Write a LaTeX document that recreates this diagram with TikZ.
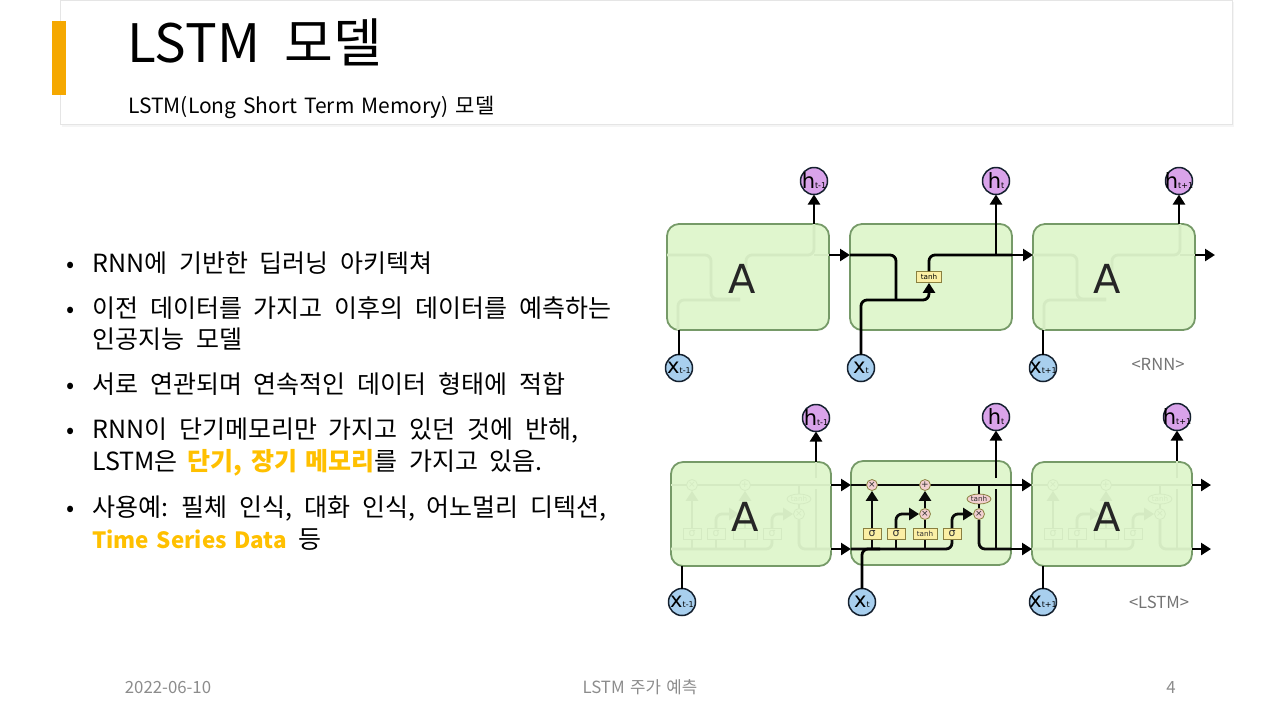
\documentclass[tikz,border=0pt]{standalone}
\usepackage{fontspec}
\setmainfont[WordSpace=2.1]{Noto Sans CJK KR}
\newfontfamily\tightfont[WordSpace=1.45]{Noto Sans CJK KR}
\newfontfamily\cellfont{DejaVu Sans}
\usetikzlibrary{arrows.meta,shapes.geometric}
\definecolor{barorange}{HTML}{F5A800}
\definecolor{gold}{HTML}{FFC000}
\definecolor{footgray}{HTML}{8C8C8C}
\definecolor{cellfill}{HTML}{E0F6CE}
\definecolor{celledge}{HTML}{769A68}
\definecolor{infill}{HTML}{A8CFEE}
\definecolor{outfill}{HTML}{D9A3EA}
\definecolor{ringdark}{HTML}{14202E}
\definecolor{wireghost}{HTML}{D4EAC2}
\definecolor{wirelive}{HTML}{0A0A0A}
\definecolor{gatefillghost}{HTML}{E0F6CE}
\definecolor{gatefilllive}{HTML}{FBEFA5}
\definecolor{gateedgeghost}{HTML}{D4EAC2}
\definecolor{gateedgelive}{HTML}{8A8040}
\definecolor{opfillghost}{HTML}{E0F6CE}
\definecolor{opfilllive}{HTML}{F2CFD0}
\definecolor{textghost}{HTML}{D4EAC2}
\definecolor{textlive}{HTML}{303030}
\newcommand{\cellvar}[2]{\makebox[10pt][c]{\cellfont{\fontsize{10.5}{11}\selectfont #1}{\fontsize{4}{5}\selectfont #2}}}
\newcommand{\fs}[1]{\fontsize{#1}{#1}\selectfont}
\begin{document}
\begin{tikzpicture}[x=0.5pt, y=-0.5pt,
	body/.style = {anchor = base west, inner sep = 0pt, font = \fs{12.5}},
	foot/.style = {anchor = base, inner sep = 0pt, text = footgray, font = \tightfont\fs{8.4}},
	cell/.style = {draw = celledge, fill = cellfill, line width = 0.9pt, rounded corners = 6pt, inner sep = 0pt, outer sep = 0pt},
	wire/.style = {line width = 1.4pt, rounded corners = 3pt},
	tip/.style = {-{Triangle[length = 5pt, width = 6pt]}},
	invar/.style = {draw = ringdark, fill = infill, circle, line width = 0.75pt, minimum size = 13.5pt, inner sep = 0pt, outer sep = 0pt},
	outvar/.style = {draw = ringdark, fill = outfill, circle, line width = 0.75pt, minimum size = 13.5pt, inner sep = 0pt, outer sep = 0pt},
	letter/.style = {inner sep = 0pt, font = \cellfont\fs{20}, text = black!85},
	tag/.style = {inner sep = 0pt, font = \fs{8.3}, text = black!55}]
\useasboundingbox (0,0) rectangle (1280,720);
% title panel
\fill[black!4] (62,2) rectangle (1234,127);
\draw[black!10, fill = white] (60,0.5) rectangle (1232,124);
\fill[barorange] (52,21) rectangle (66,95);
\node (title) at (127,62) [body, font = \fs{26.5}] {LSTM 모델};
\node (subtitle) at (128,113) [body, font = \tightfont\fs{10.5}] {LSTM(Long Short Term Memory) 모델};
% bullets and text
\foreach \y in {272,317,393,438,516}
	\node (bullet\y) at (71,\y) [anchor = base, inner sep = 0pt, font = \fs{12}] {•};
\node (line1) at (92,272) [body] {RNN에 기반한 딥러닝 아키텍쳐};
\node (line2) at (92,317) [body] {이전 데이터를 가지고 이후의 데이터를 예측하는};
\node (line3) at (92,348) [body] {인공지능 모델};
\node (line4) at (92,393) [body] {서로 연관되며 연속적인 데이터 형태에 적합};
\node (line5) at (92,438) [body] {RNN이 단기메모리만 가지고 있던 것에 반해,};
\node (line6) at (92,470) [body] {LSTM은\hspace{5pt}\textcolor{gold}{\tightfont\textbf{단기, 장기 메모리}}를 가지고 있음.};
\node (line7) at (92,516) [body] {사용예: 필체 인식, 대화 인식, 어노멀리 디텍션,};
\node (line8) at (92,548) [body] {\textcolor{gold}{\tightfont\fs{11.2}\textbf{Time Series Data}} 등};
% footer
\node (date) at (168,693) [foot] {2022-06-10};
\node (foottitle) at (640,693) [foot] {LSTM 주가 예측};
\node (pagenum) at (1171,693) [foot] {4};
% RNN row
\node (rnnA) at (748,277) [cell, minimum width = 81pt, minimum height = 53pt] {};
\node (rnnB) at (931,277) [cell, minimum width = 81pt, minimum height = 53pt] {};
\node (rnnC) at (1114,277) [cell, minimum width = 81pt, minimum height = 53pt] {};
\node (hA) at (814,181) [outvar] {\cellvar{h}{t-1}};
\node (hB) at (996,181) [outvar] {\cellvar{h}{t}};
\node (hC) at (1179,181) [outvar] {\cellvar{h}{t+1}};
\node (xA) at (679,368) [invar] {\cellvar{x}{t-1}};
\node (xB) at (861,368) [invar] {\cellvar{x}{t}};
\node (xC) at (1043,368) [invar] {\cellvar{x}{t+1}};
\foreach \cx in {667,1033} {
	\draw[wire, wireghost] (\cx,255) -- (\cx+44,255) -- (\cx+44,299) -- (\cx+73,299);
	\draw[wire, wireghost] (\cx+11,330) -- (\cx+11,300) -- (\cx+73,300);
	\draw[wire, wireghost] (\cx+79,270) -- (\cx+79,255) -- (\cx+147,255) -- (\cx+147,224);
	\draw[wire, wireghost] (\cx+147,255) -- (\cx+162,255);
}
\node (tanhB) at (929,277) [draw = gateedgelive, fill = gatefilllive, line width = 0.4pt, minimum width = 12.5pt, minimum height = 5.5pt, inner sep = 0pt, font = \cellfont\fs{3.6}] {tanh};
\coordinate (inB) at (850,255);
\coordinate (joinB) at (896,300);
\coordinate (forkB) at (996,255);
\coordinate (outB) at (1012,255);
\coordinate (inC) at (1033,255);
\coordinate (outA) at (829,255);
\coordinate (outC) at (1195,255);
\coordinate (endC) at (1215,255);
\coordinate (topA) at (814,224);
\coordinate (topC) at (1179,224);
\coordinate (lowA) at (679,330);
\coordinate (lowC) at (1043,330);
\draw[wire] (inB) -| (joinB);
\draw[wire, tip] (xB) |- (joinB) -| (tanhB);
\draw[wire] (tanhB) |- (forkB) -- (outB);
\draw[wire, tip] (forkB) -- (hB);
\draw[wire, tip, rounded corners = 0pt] (outA) -- (inB);
\draw[wire, tip, rounded corners = 0pt] (outB) -- (inC);
\draw[wire, tip, rounded corners = 0pt] (outC) -- (endC);
\draw[wire, tip] (topA) -- (hA);
\draw[wire, tip] (topC) -- (hC);
\draw[wire] (xA) -- (lowA);
\draw[wire] (xC) -- (lowC);
\node (letterA) at (742,279) [letter] {A};
\node (letterC) at (1107,279) [letter] {A};
\node (rnntag) at (1158,364) [tag] {<RNN>};
% LSTM row
\node (lstmA) at (751,514) [cell, minimum width = 80pt, minimum height = 52pt] {};
\node (lstmB) at (931,513) [cell, minimum width = 80pt, minimum height = 52pt] {};
\node (lstmC) at (1112,514) [cell, minimum width = 80pt, minimum height = 52pt] {};
\foreach \cx/\kind/\hidden/\mulmark in {691/ghost//,871/live/tanh/×,1052/ghost//} {
	\tikzset{gate/.style = {draw = gateedge\kind, fill = gatefill\kind, line width = 0.4pt, minimum width = 9pt, minimum height = 5.5pt, inner sep = 0pt, text = text\kind, font = \cellfont\fs{5.5}},
		op/.style = {draw = gateedge\kind, fill = opfill\kind, circle, line width = 0.4pt, minimum size = 5.5pt, inner sep = 0pt, text = text\kind, font = \cellfont\fs{4.5}}}
	\coordinate (cs\cx) at (\cx-20,485);
	\coordinate (ce\cx) at (\cx+140,485);
	\coordinate (hs\cx) at (\cx-20,549);
	\coordinate (he\cx) at (\cx+140,549);
	\coordinate (fork\cx) at (\cx+125,549);
	\coordinate (gapb\cx) at (\cx+125,489);
	\coordinate (gapt\cx) at (\cx+125,478);
	\coordinate (top\cx) at (\cx+125,461);
	\coordinate (ft\cx) at (\cx+1,549);
	\coordinate (it\cx) at (\cx+25,549);
	\coordinate (tt\cx) at (\cx+54,549);
	\coordinate (st\cx) at (\cx+81,549);
	\coordinate (cross\cx) at (\cx+108,485);
	\draw[wire, draw = wire\kind] (cs\cx) -- (ce\cx);
	\draw[wire, draw = wire\kind] (hs\cx) -- (st\cx) -- (\cx+81,534);
	\draw[wire, draw = wire\kind] (ft\cx) -- (\cx+1,534);
	\draw[wire, draw = wire\kind] (it\cx) -- (\cx+25,534);
	\draw[wire, draw = wire\kind] (tt\cx) -- (\cx+54,534);
	\draw[wire, draw = wire\kind] (fork\cx) -- (gapb\cx);
	\draw[wire, draw = wire\kind] (gapt\cx) -- (top\cx);
	\node (forgetop\cx) at (\cx+1,485) [op] {×};
	\node (addop\cx) at (\cx+54,485) [op] {+};
	\node (inputop\cx) at (\cx+54,514) [op] {\mulmark};
	\node (outop\cx) at (\cx+108,514) [op] {×};
	\node (tanhout\cx) at (\cx+108,499) [draw = gateedge\kind, fill = opfill\kind, ellipse, line width = 0.4pt, minimum width = 12pt, minimum height = 5pt, inner sep = 0pt, text = text\kind, font = \cellfont\fs{3.6}] {tanh};
	\node (forget\cx) at (\cx+1,534) [gate] {σ};
	\node (input\cx) at (\cx+25,534) [gate] {σ};
	\node (tanhin\cx) at (\cx+54,534) [gate, minimum width = 12pt, font = \cellfont\fs{3.6}] {\hidden};
	\node (output\cx) at (\cx+81,534) [gate] {σ};
	\draw[wire, draw = wire\kind] (tanhin\cx) -- (inputop\cx);
	\draw[wire, draw = wire\kind, tip] (forget\cx) -- (forgetop\cx);
	\draw[wire, draw = wire\kind, tip] (inputop\cx) -- (addop\cx);
	\draw[wire, draw = wire\kind, tip] (input\cx) |- (inputop\cx);
	\draw[wire, draw = wire\kind, tip] (output\cx) |- (outop\cx);
	\draw[wire, draw = wire\kind] (outop\cx) |- (he\cx);
	\draw[wire, draw = wire\kind] (tanhout\cx) -- (outop\cx);
	\draw[wire, draw = wire\kind] (tanhout\cx) -- (cross\cx);
}
\node (ltA) at (816,418) [outvar] {\cellvar{h}{t-1}};
\node (ltB) at (996,417) [outvar] {\cellvar{h}{t}};
\node (ltC) at (1177,417) [outvar] {\cellvar{h}{t+1}};
\node (lxA) at (682,602) [invar] {\cellvar{x}{t-1}};
\node (lxB) at (862,602) [invar] {\cellvar{x}{t}};
\node (lxC) at (1043,602) [invar] {\cellvar{x}{t+1}};
\draw[wire, tip, rounded corners = 0pt] (ce691) -- (cs871);
\draw[wire, tip, rounded corners = 0pt] (he691) -- (hs871);
\draw[wire, tip, rounded corners = 0pt] (ce871) -- (cs1052);
\draw[wire, tip, rounded corners = 0pt] (he871) -- (hs1052);
\coordinate (endtop) at (1211,485);
\coordinate (endlow) at (1211,549);
\draw[wire, tip, rounded corners = 0pt] (ce1052) -- (endtop);
\draw[wire, tip, rounded corners = 0pt] (he1052) -- (endlow);
\coordinate (ltopA) at (816,462);
\coordinate (ltopB) at (996,478);
\coordinate (ltopC) at (1177,461);
\draw[wire, tip] (ltopA) -- (ltA);
\draw[wire, tip] (ltopB) -- (ltB);
\draw[wire, tip] (ltopC) -- (ltC);
\coordinate (llowA) at (682,566);
\coordinate (llowC) at (1043,566);
\coordinate (ljoinB) at (880,549);
\draw[wire] (lxA) -- (llowA);
\draw[wire] (lxC) -- (llowC);
\draw[wire] (lxB) |- (ljoinB);
\node (lletterA) at (745,517) [letter] {A};
\node (lletterC) at (1107,517) [letter] {A};
\node (lstmtag) at (1159,602) [tag] {<LSTM>};
\end{tikzpicture}
\end{document}
